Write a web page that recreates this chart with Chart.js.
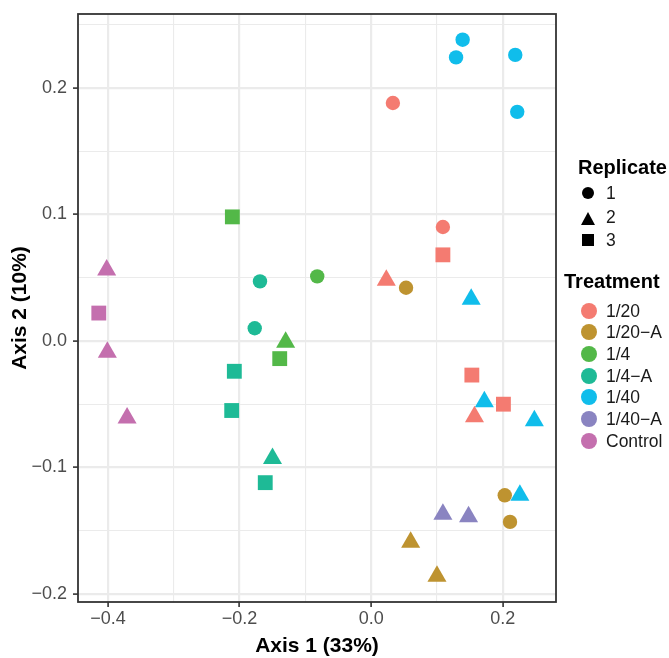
<!DOCTYPE html>
<html>
<head>
<meta charset="utf-8">
<script src="https://cdn.jsdelivr.net/npm/chart.js@4.4.1/dist/chart.umd.min.js"></script>
<style>
  body { margin: 0; background: #fff; font-family: "Liberation Sans", Arial, sans-serif; }
  #wrap { position: relative; width: 669px; height: 658px; }
  #plot { position: absolute; left: 0; top: 0; }
  .lg { position: absolute; white-space: nowrap; }
  .ttl { font-weight: bold; font-size: 20px; line-height: 20px; color: #000; }
  .lab { font-size: 17.5px; line-height: 22px; height: 22px; color: #1a1a1a; }
</style>
</head>
<body>
<div id="wrap">
  <canvas id="plot" width="669" height="658"></canvas>
</div>
<script>
// PCoA scores, one entry per sample
const treatment = [
  '1/20', '1/20', '1/20', '1/20', '1/20', '1/20', '1/20',
  '1/20\u2212A', '1/20\u2212A', '1/20\u2212A', '1/20\u2212A', '1/20\u2212A',
  '1/4', '1/4', '1/4', '1/4',
  '1/4\u2212A', '1/4\u2212A', '1/4\u2212A', '1/4\u2212A', '1/4\u2212A', '1/4\u2212A',
  '1/40', '1/40', '1/40', '1/40', '1/40', '1/40', '1/40', '1/40',
  '1/40\u2212A', '1/40\u2212A',
  'Control', 'Control', 'Control', 'Control'
];
const replicate = [
  1, 1, 2, 2, 3, 3, 3,
  1, 1, 1, 2, 2,
  1, 2, 3, 3,
  1, 1, 2, 3, 3, 3,
  1, 1, 1, 1, 2, 2, 2, 2,
  2, 2,
  2, 2, 2, 3
];
const axis1 = [
  0.033, 0.109, 0.023, 0.157, 0.109, 0.153, 0.201,
  0.053, 0.203, 0.211, 0.060, 0.100,
  -0.082, -0.130, -0.211, -0.139,
  -0.169, -0.177, -0.150, -0.208, -0.212, -0.161,
  0.139, 0.129, 0.219, 0.222, 0.152, 0.172, 0.248, 0.226,
  0.109, 0.148,
  -0.402, -0.401, -0.371, -0.414
];
const axis2 = [
  0.188, 0.090, 0.048, -0.060, 0.068, -0.027, -0.050,
  0.042, -0.122, -0.143, -0.159, -0.186,
  0.051, -0.001, 0.098, -0.014,
  0.047, 0.010, -0.093, -0.024, -0.055, -0.112,
  0.238, 0.224, 0.226, 0.181, 0.033, -0.048, -0.063, -0.122,
  -0.137, -0.139,
  0.056, -0.009, -0.061, 0.022
];

const treatments = ['1/20', '1/20\u2212A', '1/4', '1/4\u2212A', '1/40', '1/40\u2212A', 'Control'];
const treatColors = ['#F47B71', '#BE9330', '#53B848', '#1EBA96', '#10BDEB', '#8A84C1', '#C46FAE'];
const replicates = [1, 2, 3];
const xTickLabels = ['\u22120.4', '\u22120.2', '0.0', '0.2'];
const yTickLabels = ['\u22120.2', '\u22120.1', '0.0', '0.1', '0.2'];

const shapeOf = { 1: 'circle', 2: 'triangle', 3: 'rect' };
const sizeOf = { 1: 7.2, 2: 11, 3: 10.5 };

// one dataset per treatment, shape per point from replicate
const datasets = treatments.map((t, ti) => {
  const idx = treatment.map((v, i) => v === t ? i : -1).filter(i => i >= 0);
  return {
    label: t,
    data: idx.map(i => ({ x: axis1[i], y: axis2[i] })),
    pointStyle: idx.map(i => shapeOf[replicate[i]]),
    pointRadius: idx.map(i => sizeOf[replicate[i]]),
    backgroundColor: treatColors[ti],
    borderWidth: 0,
    pointBorderWidth: 0
  };
});

const isMajorX = v => Math.abs(v / 0.2 - Math.round(v / 0.2)) < 1e-6;
const isMajorY = v => Math.abs(v / 0.1 - Math.round(v / 0.1)) < 1e-6;

function stepTicks(from, to, step) {
  const out = [];
  for (let k = Math.round(from / step); k * step <= to + 1e-9; k++) out.push({ value: +(k * step).toFixed(4) });
  return out;
}

const tickFont = { family: '"Liberation Sans", Arial, sans-serif', size: 18 };
const titleFont = { family: '"Liberation Sans", Arial, sans-serif', size: 21, weight: 'bold', lineHeight: 1 };

// panel border on all four sides
const panelBorder = {
  id: 'panelBorder',
  afterDraw(chart) {
    const a = chart.chartArea, ctx = chart.ctx;
    ctx.save();
    ctx.strokeStyle = '#333333';
    ctx.lineWidth = 1.8;
    ctx.strokeRect(a.left, a.top, a.right - a.left, a.bottom - a.top);
    ctx.restore();
  }
};

new Chart(document.getElementById('plot'), {
  type: 'scatter',
  data: { datasets },
  options: {
    responsive: false,
    animation: false,
    events: [],
    layout: { padding: { left: 0, top: 14, right: 113, bottom: 0 } },
    plugins: { legend: { display: false }, tooltip: { enabled: false } },
    scales: {
      x: {
        type: 'linear',
        min: -0.4456, max: 0.2809,
        afterBuildTicks: s => { s.ticks = stepTicks(-0.4, 0.28, 0.1); },
        afterFit: s => { s.height = 56; s.paddingLeft = 0; s.paddingRight = 0; },
        border: { display: false },
        grid: {
          color: '#ebebeb',
          lineWidth: c => (c.tick && isMajorX(c.tick.value) ? 2.2 : 1.1),
          tickColor: c => (c.tick && isMajorX(c.tick.value) ? '#333333' : 'rgba(0,0,0,0)'),
          tickWidth: 1.6,
          tickLength: 5
        },
        ticks: {
          autoSkip: false, maxRotation: 0, padding: 1,
          color: '#4d4d4d', font: tickFont,
          callback: v => (isMajorX(v) ? xTickLabels[Math.round((v + 0.4) / 0.2)] : '')
        },
        title: { display: true, text: 'Axis 1 (33%)', color: '#000', font: titleFont, padding: { top: 0, bottom: 1 } }
      },
      y: {
        type: 'linear',
        min: -0.2063, max: 0.2583,
        afterBuildTicks: s => { s.ticks = stepTicks(-0.2, 0.25, 0.05); },
        afterFit: s => { s.width = 78; s.paddingTop = 0; s.paddingBottom = 0; },
        border: { display: false },
        grid: {
          color: '#ebebeb',
          lineWidth: c => (c.tick && isMajorY(c.tick.value) ? 2.2 : 1.1),
          tickColor: c => (c.tick && isMajorY(c.tick.value) ? '#333333' : 'rgba(0,0,0,0)'),
          tickWidth: 1.6,
          tickLength: 5
        },
        ticks: {
          autoSkip: false, padding: 6,
          color: '#4d4d4d', font: tickFont,
          callback: v => (isMajorY(v) ? yTickLabels[Math.round((v + 0.2) / 0.1)] : '')
        },
        title: { display: true, text: 'Axis 2 (10%)', color: '#000', font: titleFont, padding: { top: 10, bottom: 0 } }
      }
    }
  },
  plugins: [panelBorder]
});

// legends as html
const wrap = document.getElementById('wrap');
function add(cls, css, text) {
  const d = document.createElement('div');
  d.className = 'lg ' + cls;
  Object.assign(d.style, css);
  if (text !== undefined) d.textContent = text;
  wrap.appendChild(d);
  return d;
}

add('ttl', { left: '578px', top: '157px' }, 'Replicate');
const repRowY = [193, 217, 240];
replicates.forEach((r, i) => {
  const cy = repRowY[i], cx = 588;
  if (r === 1) add('', { left: (cx - 6) + 'px', top: (cy - 6) + 'px', width: '12px', height: '12px', borderRadius: '50%', background: '#000' });
  if (r === 2) add('', { left: (cx - 7.5) + 'px', top: (cy - 5.5) + 'px', width: 0, height: 0,
    borderLeft: '7.5px solid transparent', borderRight: '7.5px solid transparent', borderBottom: '13px solid #000' });
  if (r === 3) add('', { left: (cx - 6) + 'px', top: (cy - 6) + 'px', width: '12px', height: '12px', background: '#000' });
  add('lab', { left: '606px', top: (cy - 11) + 'px' }, String(r));
});

add('ttl', { left: '564px', top: '271px' }, 'Treatment');
treatments.forEach((t, i) => {
  const cy = 310.5 + i * 21.7, cx = 588.5;
  add('', { left: (cx - 8) + 'px', top: (cy - 8) + 'px', width: '16px', height: '16px', borderRadius: '50%', background: treatColors[i] });
  add('lab', { left: '606px', top: (cy - 11) + 'px' }, t);
});
</script>
</body>
</html>
